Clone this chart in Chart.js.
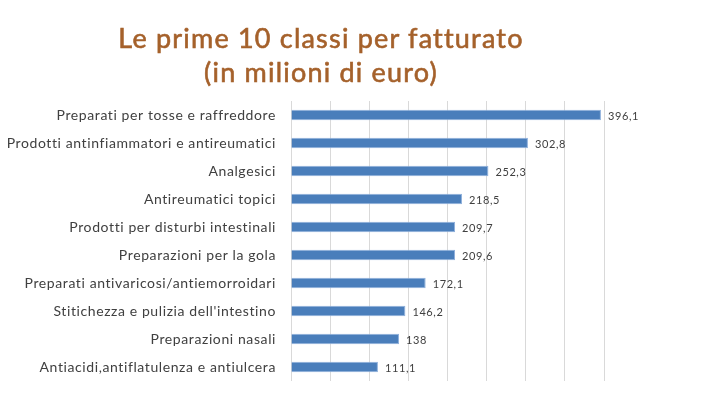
<!DOCTYPE html>
<html>
<head>
<meta charset="utf-8">
<script src="https://cdn.jsdelivr.net/npm/chart.js@4"></script>
<style>
  html, body { margin: 0; padding: 0; background: #ffffff; }
  #wrap { position: relative; width: 703px; height: 419px; }
  #title {
    position: absolute; left: 0; top: 21px; width: 642px;
    text-align: center; font-family: Lato, sans-serif; font-size: 27px;
    line-height: 34px; letter-spacing: 1.2px; color: #a5612b;
    -webkit-text-stroke: 0.6px #a5612b;
  }
  canvas { position: absolute; left: 0; top: 0; }
</style>
</head>
<body>
<div id="wrap">
  <canvas id="salesChart" width="703" height="419"></canvas>
  <div id="title"></div>
</div>
<script>
// Dati (milioni di euro)
const categories = [
  "Preparati per tosse e raffreddore",
  "Prodotti antinfiammatori e antireumatici",
  "Analgesici",
  "Antireumatici topici",
  "Prodotti per disturbi intestinali",
  "Preparazioni per la gola",
  "Preparati antivaricosi/antiemorroidari",
  "Stitichezza e pulizia dell'intestino",
  "Preparazioni nasali",
  "Antiacidi,antiflatulenza e antiulcera"
];
const values = [396.1, 302.8, 252.3, 218.5, 209.7, 209.6, 172.1, 146.2, 138, 111.1];
const valueLabels = ["396,1", "302,8", "252,3", "218,5", "209,7", "209,6", "172,1", "146,2", "138", "111,1"];
const titleLines = ["Le prime 10 classi per fatturato", "(in milioni di euro)"];

document.getElementById("title").innerHTML = titleLines.join("<br>");

// wider letter spacing like the original labels
const spacing = {
  id: "spacing",
  beforeDraw(chart) {
    chart.ctx.letterSpacing = "0.6px";
  }
};

// draws the value next to each bar
const barValues = {
  id: "barValues",
  afterDatasetsDraw(chart) {
    const ctx = chart.ctx;
    const meta = chart.getDatasetMeta(0);
    ctx.save();
    ctx.font = "11px Lato";
    ctx.fillStyle = "#404040";
    ctx.textAlign = "left";
    ctx.textBaseline = "middle";
    meta.data.forEach(function (bar, i) {
      ctx.fillText(valueLabels[i], bar.x + 7, bar.y + 1);
    });
    ctx.restore();
  }
};

const ctx = document.getElementById("salesChart").getContext("2d");
new Chart(ctx, {
  type: "bar",
  data: {
    labels: categories,
    datasets: [
      {
        data: values,
        backgroundColor: "#4a7ebb",
        borderColor: "#8fb0dc",
        borderWidth: 1,
        borderSkipped: "start",
        categoryPercentage: 1,
        barPercentage: 0.37
      }
    ]
  },
  options: {
    indexAxis: "y",
    responsive: false,
    animation: false,
    layout: { padding: { left: 0, right: 99, top: 101, bottom: 38 } },
    plugins: {
      legend: { display: false },
      tooltip: { enabled: false },
      title: { display: false }
    },
    scales: {
      x: {
        min: 0,
        max: 400,
        ticks: { display: false, stepSize: 50 },
        grid: { color: "#d9d9d9", lineWidth: 1, drawTicks: false },
        border: { display: false }
      },
      y: {
        ticks: { color: "#404040", font: { family: "Lato", size: 14 }, padding: 15 },
        grid: { display: false, drawTicks: false },
        border: { display: false },
        afterFit(scale) { scale.width = 291; }
      }
    }
  },
  plugins: [spacing, barValues]
});
</script>
</body>
</html>
